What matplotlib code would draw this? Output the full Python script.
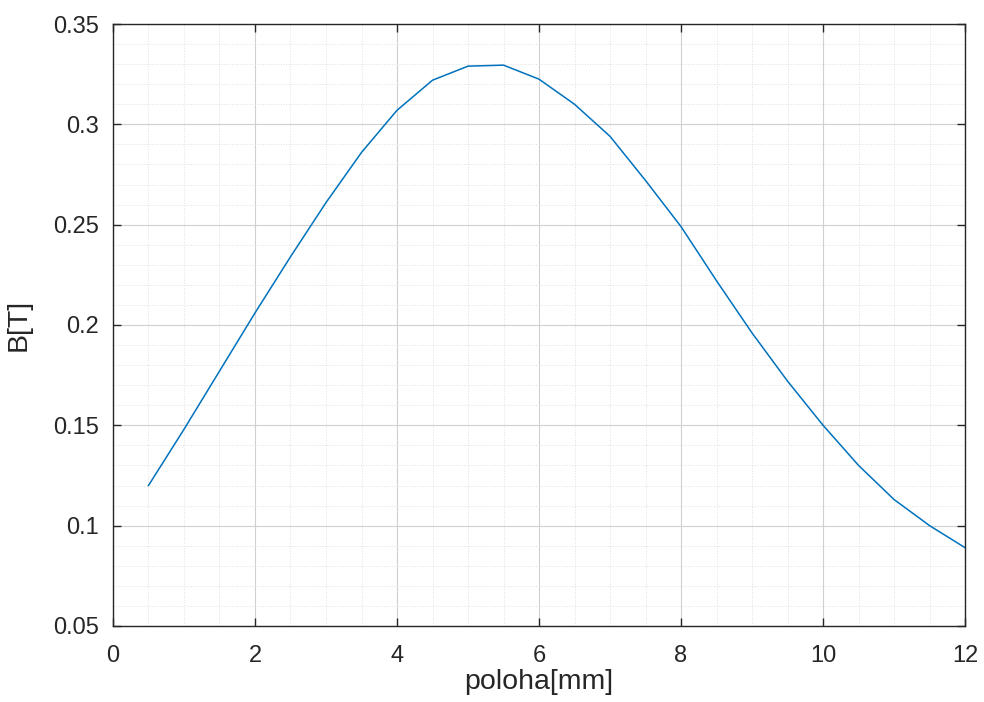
import matplotlib
matplotlib.use('Agg')
import matplotlib.pyplot as plt
from matplotlib.ticker import MultipleLocator

plt.rcParams['font.family'] = ['Liberation Sans', 'DejaVu Sans']

poloha = [0.5, 1.0, 1.5, 2.0, 2.5, 3.0, 3.5, 4.0, 4.5, 5.0, 5.5, 6.0,
          6.5, 7.0, 7.5, 8.0, 8.5, 9.0, 9.5, 10.0, 10.5, 11.0, 11.5, 12.0]
B = [0.120, 0.148, 0.177, 0.206, 0.234, 0.261, 0.286, 0.307, 0.322, 0.329,
     0.3295, 0.3225, 0.310, 0.294, 0.272, 0.249, 0.222, 0.196, 0.172, 0.150,
     0.130, 0.113, 0.100, 0.089]
xticks = [0, 2, 4, 6, 8, 10, 12]
yticks = [0.05, 0.1, 0.15, 0.2, 0.25, 0.3, 0.35]
yticklabels = ['0.05', '0.1', '0.15', '0.2', '0.25', '0.3', '0.35']

fig = plt.figure(figsize=(9.84, 7.02), dpi=100)
ax = fig.add_axes([0.1148, 0.1083, 0.866, 0.8575])

ax.plot(poloha, B, '-', color='#0072BD', linewidth=1.1)

ax.set_xlim(0, 12)
ax.set_ylim(0.05, 0.35)
ax.set_xticks(xticks)
ax.set_xticklabels([str(v) for v in xticks])
ax.set_yticks(yticks)
ax.set_yticklabels(yticklabels)
ax.xaxis.set_minor_locator(MultipleLocator(0.5))
ax.yaxis.set_minor_locator(MultipleLocator(0.01))

ax.grid(True, which='major', color='#d0d0d0', linewidth=0.8, linestyle='-')
ax.grid(True, which='minor', color='#e0e0e0', linewidth=0.7, linestyle=':')
ax.set_axisbelow(True)

ax.tick_params(which='major', direction='in', length=6, width=1,
               top=True, right=True, labelsize=17, colors='#262626')
ax.tick_params(axis='x', which='major', pad=14)
ax.tick_params(axis='y', which='major', pad=10)
ax.tick_params(which='minor', length=0)
for s in ax.spines.values():
    s.set_color('#262626')
    s.set_linewidth(1.0)

ax.set_xlabel('poloha[mm]', fontsize=20.5, color='#262626')
ax.set_ylabel('B[T]', fontsize=20.5, color='#262626')
ax.xaxis.set_label_coords(0.5, -0.071)
ax.yaxis.set_label_coords(-0.095, 0.5)

fig.savefig('out.png', dpi=100)
